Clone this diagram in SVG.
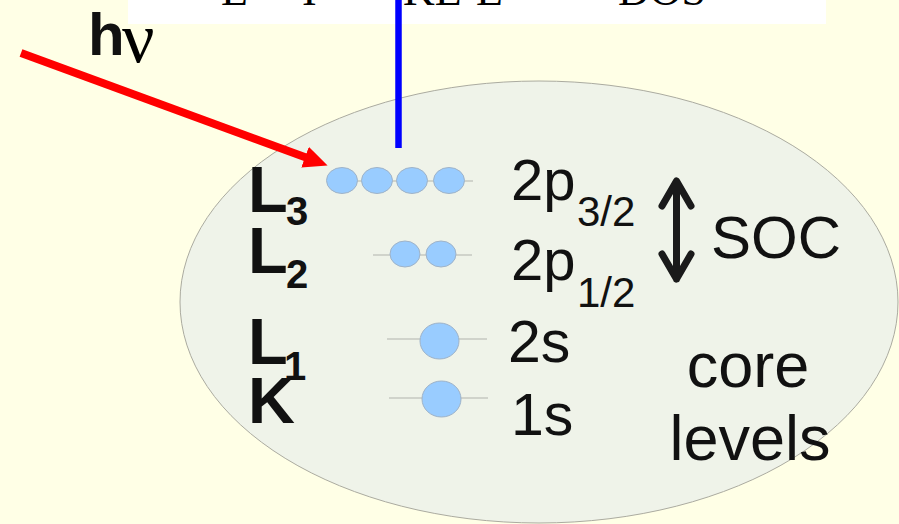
<svg xmlns="http://www.w3.org/2000/svg" width="899" height="524" viewBox="0 0 899 524">
  <style>
    .lbl { font-family: "Liberation Sans", Arial, sans-serif; fill: #111; }
    .bold { font-weight: bold; }
    .serif { font-family: "Liberation Serif", "Times New Roman", serif; fill: #000; }
    .e { fill: #99CCFF; stroke: #9FB3C8; stroke-width: 1; }
    .lvl { stroke: #C6C9C0; stroke-width: 1.5; fill: none; }
  </style>
  <defs>
    <clipPath id="boxClip">
      <rect x="128" y="0" width="698" height="24"/>
    </clipPath>
    <marker id="redHead" markerWidth="24" markerHeight="22" refX="1" refY="11" orient="auto" markerUnits="userSpaceOnUse" viewBox="0 0 24 22">
      <path d="M0,0 L24,11 L0,22 Z" fill="#FF0000"/>
    </marker>
  </defs>

  <!-- background -->
  <rect width="899" height="524" fill="#FFFFE6"/>

  <!-- equation box at top (cut off by the frame) -->
  <g id="equation">
    <rect x="128" y="0" width="698" height="24" fill="#FFFFFF"/>
    <g clip-path="url(#boxClip)" class="serif" font-size="44">
      <text x="221" y="5">E</text>
      <text x="302" y="5">I</text>
      <text x="403" y="5">KE</text>
      <text x="476" y="5">E</text>
      <text x="618" y="5">DOS</text>
    </g>
  </g>

  <!-- atom shell -->
  <ellipse id="atom" cx="539" cy="302" rx="359" ry="221" fill="#EFF3E9" stroke="#ABABA0" stroke-width="1"/>

  <!-- photon label -->
  <g id="photon-label">
    <text x="88" y="55" class="lbl bold" font-size="60" fill="#000">h</text>
    <text x="122" y="62" class="serif" font-size="72">ν</text>
  </g>

  <!-- shell labels -->
  <g id="label-L3" class="lbl bold">
    <text x="248" y="212" font-size="65">L</text>
    <text x="286" y="225" font-size="40">3</text>
  </g>
  <g id="label-L2" class="lbl bold">
    <text x="248" y="273" font-size="65">L</text>
    <text x="286" y="288" font-size="40">2</text>
  </g>
  <g id="label-L1" class="lbl bold">
    <text x="248" y="364" font-size="65">L</text>
    <text x="284" y="380" font-size="40">1</text>
  </g>
  <g id="label-K" class="lbl bold">
    <text x="248" y="423" font-size="65">K</text>
  </g>

  <!-- orbital levels with electrons -->
  <g id="level-2p32">
    <line class="lvl" x1="335" y1="181" x2="473" y2="181"/>
    <ellipse class="e" cx="342" cy="180.5" rx="15.5" ry="13"/>
    <ellipse class="e" cx="377" cy="180.5" rx="15.5" ry="13"/>
    <ellipse class="e" cx="412" cy="180.5" rx="15.5" ry="13"/>
    <ellipse class="e" cx="449" cy="180.5" rx="15.5" ry="13"/>
  </g>
  <g id="level-2p12">
    <line class="lvl" x1="373" y1="255" x2="472" y2="255"/>
    <ellipse class="e" cx="405" cy="254" rx="15" ry="13"/>
    <ellipse class="e" cx="441" cy="254" rx="15" ry="13"/>
  </g>
  <g id="level-2s">
    <line class="lvl" x1="387" y1="339" x2="487" y2="339"/>
    <ellipse class="e" cx="439.5" cy="341" rx="19.5" ry="18"/>
  </g>
  <g id="level-1s">
    <line class="lvl" x1="389" y1="398" x2="488" y2="398"/>
    <ellipse class="e" cx="441.5" cy="399" rx="19.5" ry="18"/>
  </g>

  <!-- orbital names -->
  <g id="name-2p32" class="lbl">
    <text x="511" y="200" font-size="58">2p</text>
    <text x="577" y="226" font-size="42">3/2</text>
  </g>
  <g id="name-2p12" class="lbl">
    <text x="511" y="280" font-size="58">2p</text>
    <text x="577" y="307" font-size="42">1/2</text>
  </g>
  <g id="name-2s" class="lbl">
    <text x="508" y="362" font-size="59">2s</text>
  </g>
  <g id="name-1s" class="lbl">
    <text x="511" y="435" font-size="59">1s</text>
  </g>

  <!-- spin-orbit coupling -->
  <g id="soc">
    <path d="M676.5,182 V279 M662,206 L676.5,181 L691,206 M662,254 L676.5,279 L691,254" fill="none" stroke="#1A1A1A" stroke-width="7" stroke-linecap="round" stroke-linejoin="round"/>
    <text x="711" y="258" class="lbl" font-size="60">SOC</text>
  </g>

  <g id="caption" class="lbl" font-size="63" text-anchor="middle">
    <text x="748" y="387">core</text>
    <text x="750" y="460">levels</text>
  </g>

  <!-- connectors -->
  <g id="connectors">
    <line x1="21" y1="53" x2="306" y2="157.5" stroke="#FF0000" stroke-width="8" marker-end="url(#redHead)"/>
    <line x1="398.5" y1="0" x2="398.5" y2="148" stroke="#0000FF" stroke-width="6.5"/>
  </g>
</svg>
